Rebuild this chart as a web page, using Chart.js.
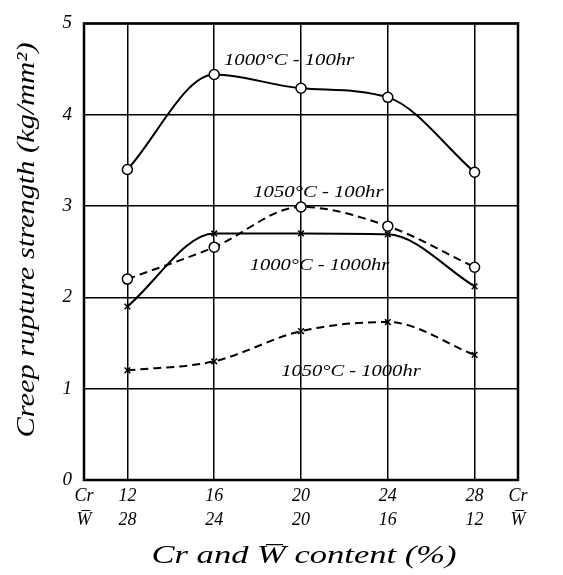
<!DOCTYPE html>
<html>
<head>
<meta charset="utf-8">
<script src="https://cdn.jsdelivr.net/npm/chart.js@4"></script>
<style>
  html, body { margin: 0; padding: 0; background: #fff; }
  canvas { display: block; }
</style>
</head>
<body>
<canvas id="chart" width="563" height="575"></canvas>
<script>
// Cr content (%) on x; W content is 40 - Cr
const crContent = [12, 16, 20, 24, 28];
const wContent = [28, 24, 20, 16, 12];
const yTicks = [0, 1, 2, 3, 4, 5];

const s1000_100 = [3.40, 4.44, 4.29, 4.19, 3.37];
const s1050_100 = [2.20, 2.55, 2.99, 2.78, 2.33];
const s1000_1000 = [1.90, 2.70, 2.70, 2.69, 2.12];
const s1050_1000 = [1.20, 1.30, 1.63, 1.73, 1.37];

// label text and anchor point (data units)
const curveLabels = [
  { text: '1000°C - 100hr', x: 19.45, y: 4.59 },
  { text: '1050°C - 100hr', x: 20.8, y: 3.15 },
  { text: '1000°C - 1000hr', x: 20.85, y: 2.35 },
  { text: '1050°C - 1000hr', x: 22.3, y: 1.19 }
];

const FONT = '"Liberation Serif", "DejaVu Serif", serif';

function pts(vals) {
  return crContent.map((x, i) => ({ x: x, y: vals[i] }));
}

function series(label, vals, dashed, marker) {
  return {
    label: label,
    data: pts(vals),
    borderColor: '#000',
    borderWidth: 2,
    borderDash: dashed ? [8, 5] : [],
    cubicInterpolationMode: 'monotone',
    pointStyle: marker,
    pointRadius: marker === 'circle' ? 5 : 4,
    pointBorderWidth: 1.5,
    pointBorderColor: '#000',
    pointBackgroundColor: '#fff',
    fill: false
  };
}

// draw text stretched to a given width (handwritten labels are wide)
function wideText(c, text, x, y, width) {
  const w = c.measureText(text).width;
  c.save();
  c.translate(x, y);
  c.scale(width / w, 1);
  c.fillText(text, 0, 0);
  c.restore();
}

const extras = {
  id: 'extras',
  afterDraw(chart) {
    const c = chart.ctx;
    const a = chart.chartArea;
    const xs = chart.scales.x, ys = chart.scales.y;
    c.save();
    c.strokeStyle = '#000';
    c.lineWidth = 2.5;
    c.strokeRect(a.left, a.top, a.right - a.left, a.bottom - a.top);

    c.fillStyle = '#000';
    c.font = 'italic 17px ' + FONT;
    c.textAlign = 'center';
    c.textBaseline = 'middle';
    curveLabels.forEach(l => {
      wideText(c, l.text, xs.getPixelForValue(l.x), ys.getPixelForValue(l.y), l.text.length * 9.3);
    });

    // axis titles
    c.font = 'italic 25px ' + FONT;
    wideText(c, 'Cr and W\u0305 content (%)', 304, 556, 305);
    c.translate(27, 240);
    c.rotate(-Math.PI / 2);
    wideText(c, 'Creep rupture strength (kg/mm²)', 0, 0, 395);
    c.restore();
  }
};

new Chart(document.getElementById('chart'), {
  type: 'line',
  data: {
    datasets: [
      series('1000°C - 100hr', s1000_100, false, 'circle'),
      series('1050°C - 100hr', s1050_100, true, 'circle'),
      series('1000°C - 1000hr', s1000_1000, false, 'crossRot'),
      series('1050°C - 1000hr', s1050_1000, true, 'crossRot')
    ]
  },
  options: {
    responsive: false,
    animation: false,
    layout: { padding: { top: 17, right: 45, left: 0, bottom: 0 } },
    plugins: { legend: { display: false }, tooltip: { enabled: false } },
    scales: {
      x: {
        type: 'linear',
        min: 10,
        max: 30,
        afterBuildTicks(scale) {
          scale.ticks = [10].concat(crContent, [30]).map(v => ({ value: v }));
        },
        afterFit(scale) { scale.height = 95; },
        grid: { color: '#000', lineWidth: 1.5, drawTicks: false },
        border: { display: false },
        ticks: {
          color: '#000',
          padding: 4,
          maxRotation: 0,
          autoSkip: false,
          font: { family: FONT, style: 'italic', size: 18, lineHeight: 1.35 },
          callback(v) {
            const i = crContent.indexOf(v);
            if (i >= 0) return [String(v), String(wContent[i])];
            return ['Cr', 'W\u0305'];
          }
        }
      },
      y: {
        min: 0,
        max: 5,
        afterBuildTicks(scale) {
          scale.ticks = yTicks.map(v => ({ value: v }));
        },
        afterFit(scale) { scale.width = 84; },
        grid: { color: '#000', lineWidth: 1.5, drawTicks: false },
        border: { display: false },
        ticks: {
          color: '#000',
          padding: 12,
          font: { family: FONT, style: 'italic', size: 19 }
        }
      }
    }
  },
  plugins: [extras]
});
</script>
</body>
</html>
